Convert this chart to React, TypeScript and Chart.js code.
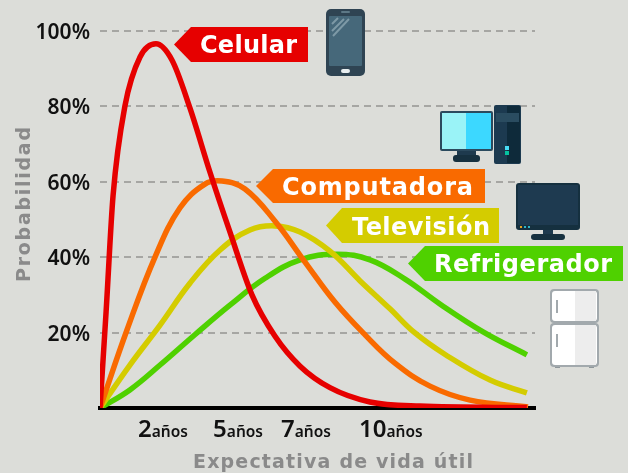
import React, { useEffect, useRef } from "react";
import { Chart, registerables } from "chart.js";

Chart.register(...registerables);

const tickYears = [2.17, 4.76, 7.1, 10.03];
const tickNumbers = ["2", "5", "7", "10"];
const tickUnit = "años";
const yTitle = "Probabilidad";
const xTitle = "Expectativa de vida útil";

const celularX = [0, 0.21, 0.45, 0.86, 1.38, 1.93, 2.48, 3.1, 3.79, 4.48, 5.24, 6.03, 6.9, 7.93, 9.31, 11.03, 14.72];
const celularY = [0, 25.5, 56.3, 80.1, 93.1, 96.6, 92.3, 79.6, 62.6, 46.7, 30, 19.1, 11.1, 5.4, 1.6, 0.5, 0.1];
const computadoraX = [0, 0.93, 1.9, 2.76, 3.62, 4.21, 5, 6.03, 7.07, 8.1, 9.14, 10.17, 11.38, 12.76, 14.76];
const computadoraY = [0, 20.7, 40.1, 53.1, 59.4, 60.2, 58.1, 49.6, 38.7, 28.1, 19.4, 11.9, 5.8, 2.1, 0.3];
const televisionX = [0, 1.03, 2.07, 3.1, 4.14, 5.17, 6.03, 6.9, 7.93, 8.97, 10, 10.86, 11.9, 13.45, 14.72];
const televisionY = [0, 11.4, 22, 33.1, 41.9, 47.2, 48.3, 46.7, 41.6, 33.7, 26.3, 19.9, 14.2, 7.4, 4];
const refrigeradorX = [0, 1.03, 2.07, 3.28, 4.48, 5.69, 6.9, 8.17, 9.31, 10.52, 11.72, 13.21, 14.72];
const refrigeradorY = [0, 4.8, 11.4, 19.5, 27.3, 34.4, 39.3, 40.8, 39.3, 34.2, 27.6, 20.2, 14.1];

const toPoints = (xs: number[], ys: number[]) => xs.map((x, i) => ({ x, y: ys[i] }));

const RED = "#e60000";
const ORANGE = "#f96a00";
const YELLOW = "#d4cc00";
const GREEN = "#4fd100";
const BG = "#dcddd9";
const TAG_FONT = "700 24px 'DejaVu Sans', sans-serif";
const TITLE_FONT = "700 19px 'DejaVu Sans', sans-serif";

const tags = [
  { text: "Celular", color: RED, tip: 174, base: 191, right: 308, top: 27, bottom: 62, x0: 200, x1: 297, baseline: 53 },
  { text: "Computadora", color: ORANGE, tip: 256, base: 273, right: 485, top: 169, bottom: 203, x0: 282, x1: 473, baseline: 195 },
  { text: "Televisión", color: YELLOW, tip: 326, base: 342, right: 499, top: 208, bottom: 243, x0: 352, x1: 490, baseline: 235 },
  { text: "Refrigerador", color: GREEN, tip: 408, base: 425, right: 623, top: 246, bottom: 281, x0: 434, x1: 612, baseline: 272 },
];

function fitText(ctx: any, text: string, x0: number, x1: number, y: number) {
  ctx.letterSpacing = "0px";
  const w = ctx.measureText(text).width;
  ctx.letterSpacing = (x1 - x0 - w) / Math.max(1, text.length - 1) + "px";
  ctx.textAlign = "left";
  ctx.fillText(text, x0, y);
  ctx.letterSpacing = "0px";
}

function rr(ctx: any, x: number, y: number, w: number, h: number, r: number, c: string) {
  ctx.fillStyle = c;
  ctx.beginPath();
  ctx.roundRect(x, y, w, h, r);
  ctx.fill();
}

function drawPhone(ctx: any) {
  rr(ctx, 326, 9, 39, 67, 5, "#2f4453");
  rr(ctx, 329, 16, 33, 50, 1, "#46687a");
  rr(ctx, 341, 69, 9, 4, 2, "#e8eef0");
  rr(ctx, 341, 11, 9, 2, 1, "#5d7886");
  ctx.strokeStyle = "#7d99a6";
  ctx.lineWidth = 2;
  ctx.beginPath();
  ctx.moveTo(332, 24); ctx.lineTo(338, 18);
  ctx.moveTo(332, 31); ctx.lineTo(344, 19);
  ctx.moveTo(333, 36); ctx.lineTo(349, 19);
  ctx.stroke();
}

function drawComputer(ctx: any) {
  rr(ctx, 440, 111, 53, 40, 2, "#2b4a5e");
  ctx.fillStyle = "#9af3f7"; ctx.fillRect(442, 113, 24, 36);
  ctx.fillStyle = "#3cd8ff"; ctx.fillRect(466, 113, 25, 36);
  ctx.fillStyle = "#1e3a4e"; ctx.fillRect(457, 151, 19, 6);
  rr(ctx, 453, 155, 27, 7, 3, "#16303f");
  rr(ctx, 494, 105, 27, 59, 2, "#1c3a50");
  ctx.fillStyle = "#0e2a3a"; ctx.fillRect(507, 106, 13, 57);
  ctx.fillStyle = "#2a4c60"; ctx.fillRect(496, 113, 23, 9);
  ctx.fillStyle = "#48dcf5"; ctx.fillRect(505, 146, 4, 4);
  ctx.fillStyle = "#06c2a0"; ctx.fillRect(505, 151, 4, 4);
}

function drawTv(ctx: any) {
  rr(ctx, 516, 183, 64, 47, 3, "#15303f");
  ctx.fillStyle = "#1e3a50"; ctx.fillRect(518, 185, 60, 40);
  ctx.fillStyle = "#e0a020"; ctx.fillRect(520, 226, 2, 2);
  ctx.fillStyle = "#2bb5c8"; ctx.fillRect(524, 226, 2, 2);
  ctx.fillRect(528, 226, 2, 2);
  ctx.fillStyle = "#1e3a4e"; ctx.fillRect(543, 230, 10, 5);
  rr(ctx, 531, 234, 34, 6, 3, "#16303f");
}

function drawFridge(ctx: any) {
  const part = (y: number, h: number) => {
    rr(ctx, 550, y, 49, h, 4, "#a2a9ad");
    rr(ctx, 552, y + 2, 45, h - 4, 3, "#ffffff");
    ctx.fillStyle = "#ededed"; ctx.fillRect(575, y + 2, 21, h - 4);
    ctx.fillStyle = "#a2a9ad"; ctx.fillRect(556, y + 11, 2, 13);
  };
  ctx.fillStyle = "#8e969a";
  ctx.fillRect(555, 365, 5, 3);
  ctx.fillRect(589, 365, 5, 3);
  part(289, 34);
  part(323, 44);
}

const decorations = {
  id: "decorations",
  afterDatasetsDraw(chart: any) {
    const ctx = chart.ctx;
    ctx.save();
    const xs = chart.scales.x;
    ctx.textBaseline = "alphabetic";
    ctx.textAlign = "left";
    ctx.fillStyle = "#111111";
    xs.ticks.forEach((t: any, i: number) => {
      const num = tickNumbers[i];
      ctx.font = "600 24px 'Noto Sans', sans-serif";
      const w1 = ctx.measureText(num).width;
      ctx.font = "600 15.5px 'Noto Sans', sans-serif";
      const w2 = ctx.measureText(tickUnit).width;
      const cx = xs.getPixelForValue(t.value);
      const left = cx - (w1 + w2) / 2;
      ctx.font = "600 24px 'Noto Sans', sans-serif";
      ctx.fillText(num, left, 437);
      ctx.font = "600 15.5px 'Noto Sans', sans-serif";
      ctx.fillText(tickUnit, left + w1, 437);
    });
    ctx.fillStyle = "#8a8a8a";
    ctx.font = TITLE_FONT;
    fitText(ctx, xTitle, 193, 473, 468);
    ctx.save();
    ctx.translate(30, 282);
    ctx.rotate(-Math.PI / 2);
    fitText(ctx, yTitle, 0, 155, 0);
    ctx.restore();
    tags.forEach((t) => {
      ctx.fillStyle = t.color;
      ctx.beginPath();
      ctx.moveTo(t.tip, (t.top + t.bottom) / 2);
      ctx.lineTo(t.base, t.top);
      ctx.lineTo(t.right, t.top);
      ctx.lineTo(t.right, t.bottom);
      ctx.lineTo(t.base, t.bottom);
      ctx.closePath();
      ctx.fill();
      ctx.fillStyle = "#ffffff";
      ctx.font = TAG_FONT;
      fitText(ctx, t.text, t.x0, t.x1, t.baseline);
    });
    drawPhone(ctx);
    drawComputer(ctx);
    drawTv(ctx);
    drawFridge(ctx);
    ctx.restore();
  },
};

const line = (label: string, data: any[], color: string, monotone = false) => ({
  label,
  data,
  borderColor: color,
  backgroundColor: color,
  borderWidth: 5.5,
  pointRadius: 0,
  tension: 0.4,
  cubicInterpolationMode: monotone ? ("monotone" as const) : ("default" as const),
  borderCapStyle: "butt" as const,
  fill: false,
});

export default function App() {
  const ref = useRef<HTMLCanvasElement>(null);
  useEffect(() => {
    const chart = new Chart(ref.current as HTMLCanvasElement, {
      type: "line",
      data: {
        datasets: [
          line("Celular", toPoints(celularX, celularY), RED, true),
          line("Computadora", toPoints(computadoraX, computadoraY), ORANGE),
          line("Televisión", toPoints(televisionX, televisionY), YELLOW),
          line("Refrigerador", toPoints(refrigeradorX, refrigeradorY), GREEN),
        ],
      },
      options: {
        responsive: false,
        animation: false,
        layout: { padding: { top: 31, right: 93, left: 0, bottom: 0 } },
        plugins: { legend: { display: false }, tooltip: { enabled: false } },
        scales: {
          x: {
            type: "linear",
            min: 0,
            max: 15,
            afterFit: (s: any) => { s.height = 65; },
            afterBuildTicks: (s: any) => { s.ticks = tickYears.map((value) => ({ value })); },
            ticks: { display: false, autoSkip: false },
            grid: { display: false },
            border: { display: true, color: "#000000", width: 4 },
          },
          y: {
            min: 0,
            max: 100,
            afterFit: (s: any) => { s.width = 100; },
            ticks: {
              stepSize: 20,
              padding: 10,
              labelOffset: 2,
              color: "#111111",
              font: { family: "'Noto Sans', sans-serif", size: 21, weight: 600 },
              callback: (v: any) => (v === 0 ? "" : v + "%"),
            },
            grid: {
              drawTicks: false,
              lineWidth: 2,
              color: (c: any) => (c.tick.value === 0 ? "transparent" : "#a6a6a3"),
            },
            border: { display: false, dash: [7, 5] },
          },
        },
      },
      plugins: [decorations],
    } as any);
    return () => chart.destroy();
  }, []);
  return (
    <div style={{ position: "absolute", left: 0, top: 0, width: 628, height: 473, background: BG }}>
      <canvas ref={ref} width={628} height={473} style={{ display: "block" }} />
    </div>
  );
}
